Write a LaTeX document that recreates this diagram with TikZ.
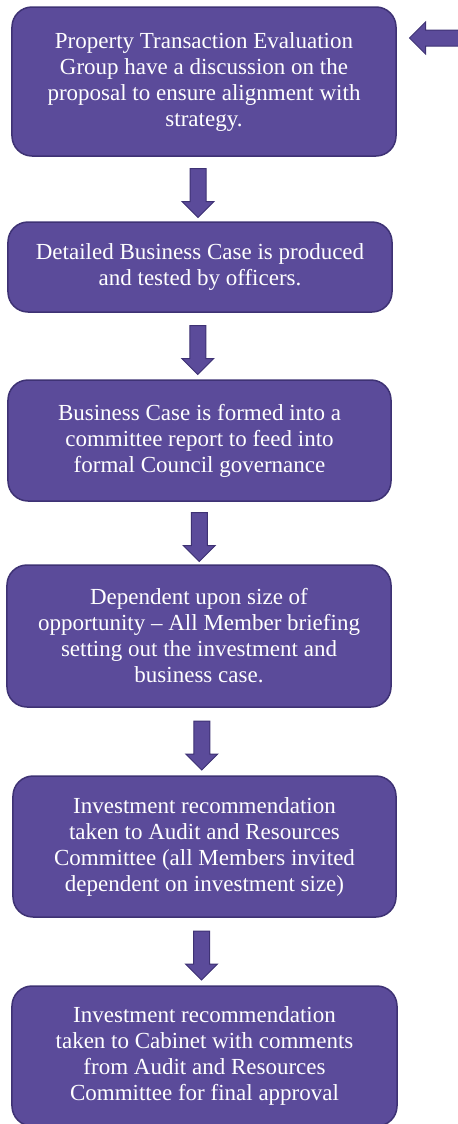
\documentclass[tikz,border=0pt]{standalone}
\usepackage{fontspec}
\setmainfont{Liberation Serif}
\usepackage{xcolor}
\usepackage{tikz}
\usetikzlibrary{shapes,arrows,positioning,calc}

\definecolor{stagefill}{RGB}{91,75,154}
\definecolor{stageline}{RGB}{62,50,116}

\begin{document}
\begin{tikzpicture}[
                x=1bp,
                y=-1bp,
                stage/.style={
                    draw=stageline,
                    line width=1.5bp,
                    fill=stagefill,
                    rounded corners=20bp,
                    text=white,
                    align=center,
                    inner sep=0pt,
                    font=\fontsize{23bp}{26bp}\selectfont
                },
                blockarrow/.style={
                    draw=stageline,
                    line width=1bp,
                    fill=stagefill,
                    single arrow,
                    single arrow head extend=8bp,
                    inner sep=7.5bp,
                    minimum height=49bp
                }
            ]
                \clip (0,0) rectangle (458,1124);

                % the six stages, top to bottom
                \node[
                    stage,
                    minimum width=384bp,
                    minimum height=149bp
                ] (evalgroup) at (204,81.5) {Property Transaction Evaluation\\Group have a discussion on the\\proposal to ensure alignment with\\strategy.};

                \node[
                    stage,
                    minimum width=384bp,
                    minimum height=90bp
                ] (bizcase) at (200,267) {Detailed Business Case is produced\\and tested by officers.};

                \node[
                    stage,
                    minimum width=383bp,
                    minimum height=121bp
                ] (cttereport) at (199.5,440.5) {Business Case is formed into a\\committee report to feed into\\formal Council governance};

                \node[
                    stage,
                    minimum width=384bp,
                    minimum height=142bp
                ] (briefing) at (199,636) {Dependent upon size of\\opportunity -- All Member briefing\\setting out the investment and\\business case.};

                \node[
                    stage,
                    minimum width=383bp,
                    minimum height=141bp
                ] (auditres) at (204.5,846.5) {Investment recommendation\\taken to Audit and Resources\\Committee (all Members invited\\dependent on investment size)};

                \node[
                    stage,
                    minimum width=385bp,
                    minimum height=140bp
                ] (cabinet) at (204.5,1056) {Investment recommendation\\taken to Cabinet with comments\\from Audit and Resources\\Committee for final approval};

                % block arrows between the stages
                \node[
                    blockarrow,
                    shape border rotate=270,
                    xshift=-4bp
                ] (down1) at ($(evalgroup.south)!0.5!(bizcase.north)$) {};

                \node[
                    blockarrow,
                    shape border rotate=270,
                    xshift=-2bp
                ] (down2) at ($(bizcase.south)!0.5!(cttereport.north)$) {};

                \node[
                    blockarrow,
                    shape border rotate=270
                ] (down3) at ($(cttereport.south)!0.5!(briefing.north)$) {};

                \node[
                    blockarrow,
                    shape border rotate=270
                ] (down4) at ($(briefing.south)!0.5!(auditres.north)$) {};

                \node[
                    blockarrow,
                    shape border rotate=270,
                    xshift=-3bp
                ] (down5) at ($(auditres.south)!0.5!(cabinet.north)$) {};

                % incoming arrow at the top right
                \node[
                    blockarrow,
                    shape border rotate=180
                ] (incoming) at (438,38) {};

            \end{tikzpicture}
\end{document}
